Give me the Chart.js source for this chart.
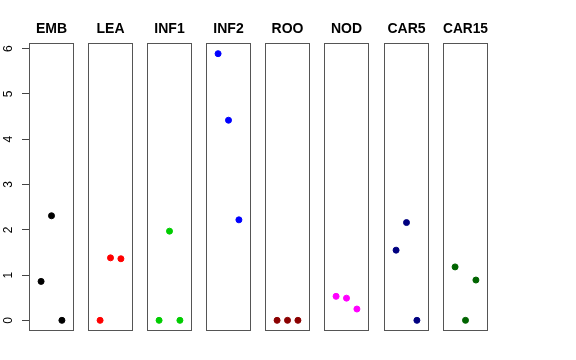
<!DOCTYPE html>
<html>
<head>
<meta charset="utf-8">
<script src="https://cdn.jsdelivr.net/npm/chart.js@4"></script>
<style>
  body { margin:0; background:#fff; }
  #wrap { position:relative; width:576px; height:360px; }
  #wrap canvas { position:absolute; top:0; }
</style>
</head>
<body>
<div id="wrap"></div>
<script>
// tissues, one panel each
let tissues=['EMB','LEA','INF1','INF2','ROO','NOD','CAR5','CAR15'];
let colors=['#000000','#FF0000','#00CD00','#0000FF','#8B0000','#FF00FF','#000080','#006400'];
// three values per tissue, left to right
let vEMB=[0.86,2.31,0];
let vLEA=[0,1.38,1.36];
let vINF1=[0,1.97,0];
let vINF2=[5.89,4.42,2.22];
let vROO=[0,0,0];
let vNOD=[0.53,0.49,0.25];
let vCAR5=[1.55,2.16,0];
let vCAR15=[1.18,0,0.89];
let values=[vEMB,vLEA,vINF1,vINF2,vROO,vNOD,vCAR5,vCAR15];
let xPos=[1,2,3];
let yTicks=[0,1,2,3,4,5,6];

let lefts=[29,88,147,206,265,324,384,443];
let panelW=45;

// box around each panel
let boxPlugin={
  id:'box',
  afterDraw(chart){
    let a=chart.chartArea, c=chart.ctx;
    c.save();
    c.strokeStyle='#555';
    c.lineWidth=1;
    c.strokeRect(Math.round(a.left)+0.5,Math.round(a.top)+0.5,Math.round(a.right-a.left)-1,Math.round(a.bottom-a.top)-1);
    c.restore();
  }
};

let wrap=document.getElementById('wrap');
tissues.forEach((t,i)=>{
  let first=(i==0);
  let cv=document.createElement('canvas');
  let w=first ? lefts[0]+panelW : panelW;
  cv.width=w; cv.height=360;
  cv.style.width=w+'px'; cv.style.height='360px';
  cv.style.left=(first ? 0 : lefts[i])+'px';
  wrap.appendChild(cv);
  let yScale={
    min:-0.2356,max:6.126,
    display:first,
    afterBuildTicks(s){ s.ticks=yTicks.map(v=>({value:v})); },
    border:{display:false},
    grid:{drawOnChartArea:false,drawTicks:true,tickLength:7,color:'#444'},
    ticks:{
      color:'#000',
      minRotation:90,maxRotation:90,
      crossAlign:'center',
      padding:10,
      font:{family:'Liberation Sans, Arial, sans-serif',size:12}
    }
  };
  if(first) yScale.afterFit=function(s){ s.width=lefts[0]; };
  new Chart(cv.getContext('2d'),{
    type:'scatter',
    data:{
      datasets:[{
        data:values[i].map((v,j)=>({x:xPos[j],y:v})),
        backgroundColor:colors[i],
        borderColor:colors[i],
        pointRadius:3,
        pointHoverRadius:3
      }]
    },
    options:{
      responsive:false,
      animation:false,
      events:[],
      layout:{autoPadding:false,padding:{top:20.9,bottom:29,left:0,right:0}},
      plugins:{
        legend:{display:false},
        tooltip:{enabled:false},
        title:{
          display:true,
          text:t,
          fullSize:false,
          color:'#000',
          font:{family:'Liberation Sans, Arial, sans-serif',size:14,weight:'bold',lineHeight:1.2},
          padding:{top:0,bottom:5.3}
        }
      },
      scales:{
        x:{type:'linear',min:-0.16,max:4.16,display:false},
        y:yScale
      }
    },
    plugins:[boxPlugin]
  });
});
</script>
</body>
</html>
